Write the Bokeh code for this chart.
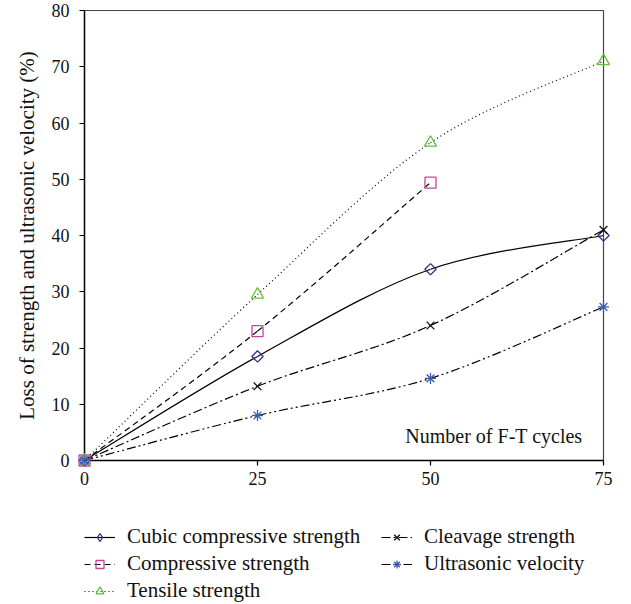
import numpy as np
from bokeh.plotting import figure
from bokeh.layouts import column
from bokeh.models import Legend, LegendItem, Label, Range1d, FixedTicker
from bokeh.embed import file_html
from bokeh.resources import INLINE

# ---- data ----
cycles = [0, 25, 50, 75]
cubic = [0, 18.5, 34.0, 40.0]
compressive = [0, 23.0, 49.4]
tensile = [0, 29.5, 56.5, 71.0]
cleavage = [0, 13.2, 24.0, 41.0]
ultrasonic = [0, 8.0, 14.6, 27.3]
names = ["Cubic compressive strength", "Compressive strength", "Tensile strength",
         "Cleavage strength", "Ultrasonic velocity"]
x_ticks = [0, 25, 50, 75]
y_ticks = [0, 10, 20, 30, 40, 50, 60, 70, 80]

FONT = "Liberation Serif"
BL, BR = 84, 22

p = figure(width=625, height=492, output_backend="svg", toolbar_location=None,
           x_range=Range1d(0, 75), y_range=Range1d(0, 80),
           min_border_left=BL, min_border_right=BR, min_border_top=10, min_border_bottom=32)
p.grid.visible = False
p.outline_line_color = "#444444"
p.outline_line_width = 1.2
p.background_fill_color = "white"
p.border_fill_color = "white"

for ax in (p.xaxis[0], p.yaxis[0]):
    ax.axis_line_color = "black"
    ax.axis_line_width = 1.4
    ax.major_tick_line_color = "black"
    ax.major_tick_line_width = 1.2
    ax.major_tick_in = 0
    ax.major_tick_out = 5
    ax.minor_tick_line_color = None
    ax.major_label_text_font = FONT
    ax.major_label_text_font_size = "18px"
    ax.major_label_text_color = "#111111"
    ax.axis_label_text_font = FONT
    ax.axis_label_text_font_style = "normal"
    ax.axis_label_text_font_size = "21px"
    ax.axis_label_text_color = "#111111"

p.xaxis.ticker = FixedTicker(ticks=x_ticks)
p.yaxis.ticker = FixedTicker(ticks=y_ticks)
p.xaxis.major_label_standoff = 6
p.yaxis.major_label_standoff = 10
p.yaxis.axis_label = "Loss of strength and ultrasonic velocity (%)"
p.yaxis.axis_label_standoff = 10


def smooth(xs, ys):
    n = len(xs)
    d = dict(x0=[], y0=[], x1=[], y1=[], cx0=[], cy0=[], cx1=[], cy1=[])
    for i in range(n - 1):
        pm = i - 1 if i > 0 else i
        pp = i + 2 if i + 2 < n else i + 1
        d["x0"].append(xs[i]); d["y0"].append(ys[i])
        d["x1"].append(xs[i + 1]); d["y1"].append(ys[i + 1])
        d["cx0"].append(xs[i] + (xs[i + 1] - xs[pm]) / 6.0)
        d["cy0"].append(ys[i] + (ys[i + 1] - ys[pm]) / 6.0)
        d["cx1"].append(xs[i + 1] - (xs[pp] - xs[i]) / 6.0)
        d["cy1"].append(ys[i + 1] - (ys[pp] - ys[i]) / 6.0)
    return d


# (values, dash, marker, angle, legend marker, colour, size)
series = [
    (cubic, "solid", "square", np.pi / 4, "diamond", "#2e2e8a", 8),
    (compressive, "6 4", "square", 0, "square", "#c0479e", 11),
    (tensile, "1 3", "triangle", 0, "triangle", "#62bf3c", 12),
    (cleavage, "9 3 2 3", "x", 0, "x", "#111111", 11),
    (ultrasonic, "9 3 2 3 2 3", "asterisk", 0, "asterisk", "#3a5bb5", 11),
]

# legend panel (separate figure under the chart, same side borders)
LH = 112
lf = figure(width=625, height=LH, output_backend="svg", toolbar_location=None,
            x_range=Range1d(0, 1), y_range=Range1d(0, 1),
            min_border_left=BL, min_border_top=32, min_border_right=BR, min_border_bottom=0)
lf.axis.visible = False
lf.grid.visible = False
lf.outline_line_color = None
lf.background_fill_color = "white"
lf.border_fill_color = "white"

items = []
for name, (vals, dash, marker, ang, lmarker, color, size) in zip(names, series):
    xs = cycles[:len(vals)]
    seg = smooth(xs, vals)
    p.bezier(source=seg, x0="x0", y0="y0", x1="x1", y1="y1", cx0="cx0", cy0="cy0",
             cx1="cx1", cy1="cy1", line_color="black", line_width=1.2, line_dash=dash)
    p.scatter(x=xs, y=vals, marker=marker, angle=ang, size=size, line_color=color,
              line_width=1.3, fill_color=None, level="overlay")
    # legend proxies (hidden renderers in the legend panel)
    pl = lf.line(x=xs, y=vals, line_color="black", line_width=1.2, line_dash=dash,
                 visible=False)
    lsize = 10 if lmarker == "diamond" else size * 0.72
    ps = lf.scatter(x=xs, y=vals, marker=lmarker, size=lsize,
                    line_color=color, line_width=1.3, fill_color=None, visible=False)
    items.append(LegendItem(label=name, renderers=[pl, ps]))


def make_legend(its, loc):
    return Legend(items=its, location=loc, orientation="vertical",
                  glyph_width=31, glyph_height=20, label_height=20, label_standoff=12,
                  spacing=2, padding=0, margin=0, border_line_alpha=0,
                  background_fill_alpha=0, inactive_fill_alpha=0,
                  label_text_font=FONT, label_text_font_size="21px",
                  label_text_color="#111111")


lf.add_layout(make_legend(items[:3], "top_left"), "center")
# second column: left edge at 297 px from frame left, top aligned with first column
lf.add_layout(make_legend(items[3:], (297, 28)), "center")

lab = Label(x=75, y=0, x_offset=-21, y_offset=25, text="Number of F-T cycles",
            text_align="right", text_baseline="middle", text_font=FONT,
            text_font_size="20px", text_color="#111111")
p.add_layout(lab)

layout = column(p, lf, spacing=0)
open("out.html", "w").write(file_html(layout, INLINE))
